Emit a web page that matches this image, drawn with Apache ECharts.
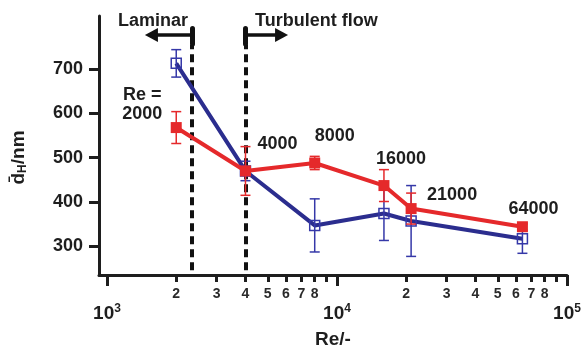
<!DOCTYPE html>
<html>
<head>
<meta charset="utf-8">
<script src="https://cdn.jsdelivr.net/npm/echarts@6/dist/echarts.min.js"></script>
<style>
  html, body { margin: 0; padding: 0; background: #fff; }
  #chart { width: 581px; height: 345px; }
</style>
</head>
<body>
<div id="chart"></div>
<script>
// measured Reynolds numbers and mean hydrodynamic diameters (nm)
const reynolds = [2000, 4000, 8000, 16000, 21000, 64000]
const blueMean = [713, 470, 347, 374, 357, 317]
const blueErr = [31, 22, 60, 61, 80, 33]
const redMean = [568, 470, 488, 437, 385, 344]
const redErr = [36, 55, 15, 36, 35, 8]
const reLabels = ['Re =\n2000', '4000', '8000', '16000', '21000', '64000']

// axis ticks
const majorTicks = [1000, 10000, 100000]
const minorTicks = [2000, 3000, 4000, 5000, 6000, 7000, 8000, 9000,
  20000, 30000, 40000, 50000, 60000, 70000, 80000, 90000]
const minorLabelled = [2000, 3000, 4000, 5000, 6000, 7000, 8000,
  20000, 30000, 40000, 50000, 60000, 70000, 80000]
const yTicks = [300, 400, 500, 600, 700]

// flow regime markers
const laminarLimit = 2340
const turbulentStart = 4000
const arrowReach = [1560, 5740]

const BLUE = '#2b2d8e'
const RED = '#e5292b'
const INK = '#1e1e1e'
const FONT = 'Liberation Sans'

const lg = v => Math.log10(v)

// label offsets relative to the red points
const labelOffsets = [[-34, -23], [32, -27], [20, -27], [17, -27], [41, -14], [11, -18]]

function errorBars(mean, err, color) {
  return {
    type: 'custom',
    z: 4,
    encode: { x: 0, y: [1, 2] },
    data: reynolds.map((re, i) => [lg(re), mean[i] - err[i], mean[i] + err[i]]),
    renderItem(params, api) {
      const x = api.value(0)
      const lo = api.coord([x, api.value(1)])
      const hi = api.coord([x, api.value(2)])
      const w = 5
      const style = { stroke: color, lineWidth: 1.5, fill: null }
      return {
        type: 'group',
        children: [
          { type: 'line', shape: { x1: lo[0], y1: lo[1], x2: hi[0], y2: hi[1] }, style },
          { type: 'line', shape: { x1: lo[0] - w, y1: lo[1], x2: lo[0] + w, y2: lo[1] }, style },
          { type: 'line', shape: { x1: hi[0] - w, y1: hi[1], x2: hi[0] + w, y2: hi[1] }, style }
        ]
      }
    }
  }
}

const regimeLines = [
  // dashed boundaries
  [{ coord: [lg(laminarLimit), 246], symbol: 'none' }, { coord: [lg(laminarLimit), 755], symbol: 'none' }],
  [{ coord: [lg(turbulentStart), 246], symbol: 'none' }, { coord: [lg(turbulentStart), 755], symbol: 'none' }],
  // arrows
  [{ coord: [lg(laminarLimit), 777], symbol: 'none', lineStyle: { type: 'solid', width: 3.5 } },
    { coord: [lg(arrowReach[0]), 777], symbol: 'triangle', symbolSize: [14, 13] }],
  [{ coord: [lg(turbulentStart), 777], symbol: 'none', lineStyle: { type: 'solid', width: 3.5 } },
    { coord: [lg(arrowReach[1]), 777], symbol: 'triangle', symbolSize: [14, 13] }],
  // end blobs
  [{ coord: [lg(laminarLimit), 792], symbol: 'none', lineStyle: { type: 'solid', width: 5, cap: 'round' } },
    { coord: [lg(laminarLimit), 757], symbol: 'none' }],
  [{ coord: [lg(turbulentStart), 792], symbol: 'none', lineStyle: { type: 'solid', width: 5, cap: 'round' } },
    { coord: [lg(turbulentStart), 757], symbol: 'none' }]
]

const xRange = { min: lg(923), max: 5 }

const chart = echarts.init(document.getElementById('chart'))
chart.setOption({
  animation: false,
  grid: { left: 99, right: 14, top: 16, bottom: 70, containLabel: false, outerBoundsMode: 'none' },
  xAxis: [{
    type: 'value',
    min: xRange.min,
    max: xRange.max,
    name: 'Re/-',
    nameLocation: 'middle',
    nameGap: 55,
    nameTextStyle: { fontFamily: FONT, fontWeight: 'bold', fontSize: 19, color: INK },
    axisLine: { lineStyle: { color: INK, width: 3 } },
    axisTick: {
      customValues: majorTicks.map(lg),
      length: 11,
      lineStyle: { color: INK, width: 3 }
    },
    axisLabel: {
      customValues: majorTicks.map(lg),
      margin: 28,
      formatter: v => '{b|10}{s|' + Math.round(v) + '}',
      rich: {
        b: { fontFamily: FONT, fontWeight: 'bold', fontSize: 19, color: INK },
        s: { fontFamily: FONT, fontWeight: 'bold', fontSize: 12, color: INK, padding: [0, 0, 10, 0] }
      }
    },
    splitLine: { show: false }
  }, {
    type: 'value',
    min: xRange.min,
    max: xRange.max,
    position: 'bottom',
    axisLine: { show: false },
    axisTick: {
      customValues: minorTicks.map(lg),
      length: 7,
      lineStyle: { color: INK, width: 3 }
    },
    axisLabel: {
      customValues: minorLabelled.map(lg),
      margin: 12,
      fontFamily: FONT,
      fontWeight: 'bold',
      fontSize: 14,
      color: '#2a2a2a',
      formatter: v => String(Math.round(Math.pow(10, v - Math.floor(v + 1e-9))))
    },
    splitLine: { show: false }
  }],
  yAxis: {
    type: 'value',
    min: 235,
    max: 820,
    name: '{o|d\u0304}{h|H}{n|/nm}',
    nameLocation: 'middle',
    nameRotate: 90,
    nameGap: 70,
    nameTextStyle: {
      rich: {
        o: { fontFamily: FONT, fontWeight: 'bold', fontSize: 19, color: INK },
        h: { fontFamily: FONT, fontWeight: 'bold', fontSize: 12, color: INK, padding: [8, 0, 0, 0] },
        n: { fontFamily: FONT, fontWeight: 'bold', fontSize: 19, color: INK, padding: [0, 24, 0, 0] }
      }
    },
    axisLine: { show: true, lineStyle: { color: INK, width: 3 } },
    axisTick: {
      show: true,
      customValues: yTicks,
      length: 10,
      lineStyle: { color: INK, width: 3 }
    },
    axisLabel: {
      customValues: yTicks,
      margin: 16,
      fontFamily: FONT,
      fontWeight: 'bold',
      fontSize: 18,
      color: INK
    },
    splitLine: { show: false }
  },
  graphic: [
    { type: 'text', left: 118, top: 12, style: { text: 'Laminar', fontFamily: FONT, fontWeight: 'bold', fontSize: 18, fill: INK } },
    { type: 'text', left: 255, top: 12, style: { text: 'Turbulent flow', fontFamily: FONT, fontWeight: 'bold', fontSize: 18, fill: INK } }
  ],
  series: [
    errorBars(blueMean, blueErr, '#3538a8'),
    {
      type: 'line',
      z: 3,
      data: reynolds.map((re, i) => [lg(re), blueMean[i]]),
      symbol: 'rect',
      symbolSize: 10,
      lineStyle: { color: BLUE, width: 4 },
      itemStyle: { color: 'rgba(255,255,255,0)', borderColor: '#3538a8', borderWidth: 1.5 },
      markLine: {
        silent: true,
        z: 1,
        label: { show: false },
        lineStyle: { color: '#111', width: 4, type: [8, 5] },
        data: regimeLines
      }
    },
    errorBars(redMean, redErr, RED),
    {
      type: 'line',
      z: 5,
      data: reynolds.map((re, i) => ({
        value: [lg(re), redMean[i]],
        label: { offset: labelOffsets[i] }
      })),
      symbol: 'rect',
      symbolSize: 11,
      lineStyle: { color: RED, width: 4 },
      itemStyle: { color: RED },
      label: {
        show: true,
        position: 'inside',
        formatter: p => reLabels[p.dataIndex],
        fontFamily: FONT,
        fontWeight: 'bold',
        fontSize: 18,
        lineHeight: 19,
        color: INK
      }
    }
  ]
})
</script>
</body>
</html>
